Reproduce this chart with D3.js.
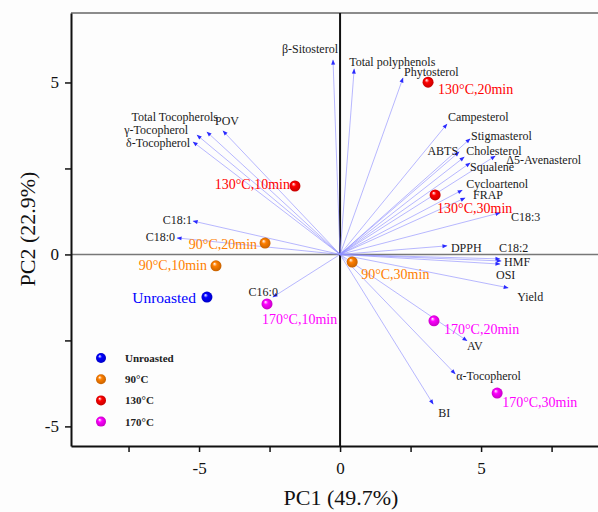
<!DOCTYPE html>
<html>
<head>
<meta charset="utf-8">
<script src="https://cdn.jsdelivr.net/npm/d3@7"></script>
<style>
  body { margin: 0; background: #fdfdfd; }
  svg { display: block; font-family: "Liberation Serif", "Times New Roman", serif; }
</style>
</head>
<body>
<svg id="chart" width="598" height="512"></svg>
<script>
// sample scores (PC1, PC2)
var sampleNames = ["Unroasted", "90°C,10min", "90°C,20min", "90°C,30min",
  "130°C,10min", "130°C,20min", "130°C,30min",
  "170°C,10min", "170°C,20min", "170°C,30min"]
var sampleGroup = ["Unroasted", "90°C", "90°C", "90°C", "130°C", "130°C", "130°C", "170°C", "170°C", "170°C"]
var samplePC1 = [-4.72, -4.40, -2.66, 0.43, -1.60, 3.12, 3.37, -2.59, 3.33, 5.57]
var samplePC2 = [-1.24, -0.33, 0.33, -0.22, 1.99, 5.01, 1.73, -1.44, -1.93, -4.03]

// variable loadings (scaled to score space)
var varNames = ["β-Sitosterol", "Total polyphenols", "Phytosterol", "Campesterol", "Stigmasterol",
  "ABTS", "Cholesterol", "Δ5-Avenasterol", "Squalene", "Cycloartenol", "FRAP", "C18:3",
  "DPPH", "C18:2", "HMF", "OSI", "Yield", "AV", "α-Tocopherol", "BI",
  "C16:0", "C18:1", "C18:0", "δ-Tocopherol", "γ-Tocopherol", "Total Tocopherols", "POV"]
var varPC1 = [-0.25, 0.50, 2.23, 3.79, 4.61, 4.22, 4.40, 5.50, 4.61, 4.33, 4.43, 5.67,
  3.79, 5.67, 5.71, 5.67, 5.96, 4.50, 4.08, 3.30,
  -2.38, -5.21, -5.78, -5.21, -5.07, -4.72, -4.15]
var varPC2 = [5.65, 5.39, 5.13, 3.79, 3.36, 2.98, 2.83, 2.86, 2.66, 1.87, 1.64, 1.21,
  0.25, -0.13, -0.19, -0.28, -0.97, -2.51, -3.47, -4.35,
  -1.24, 0.97, 0.48, 3.27, 3.47, 3.56, 3.59]

var groups = ["Unroasted", "90°C", "130°C", "170°C"]
var xTicks = [-7.5, -5, -2.5, 0, 2.5, 5, 7.5]
var yTicks = [-5, -2.5, 0, 2.5, 5]

var color = d3.scaleOrdinal().domain(groups).range(["#0000ff", "#ff7f00", "#ff0000", "#ff00ff"])

// label placement (pixels from the point / arrow tip)
var varLabelPos = {
  "β-Sitosterol": [5, -11, "end"], "Total polyphenols": [-5, -7, "start"], "Phytosterol": [1, -6, "start"],
  "Campesterol": [1, -7, "start"], "Stigmasterol": [1, -3, "start"], "ABTS": [-1, -1, "end"],
  "Cholesterol": [2, -6, "start"], "Δ5-Avenasterol": [11, 4, "start"], "Squalene": [0, 4, "start"],
  "Cycloartenol": [4, -6, "start"], "FRAP": [8, -3, "start"], "C18:3": [11, 4, "start"],
  "DPPH": [4, 2, "start"], "C18:2": [-1, -11, "start"], "HMF": [3, 1, "start"], "OSI": [-4, 11, "start"],
  "Yield": [9, 9, "start"], "AV": [0, 5, "start"], "α-Tocopherol": [1, 2, "start"], "BI": [5, 9, "start"],
  "C16:0": [5, -5, "end"], "C18:1": [-1, -1, "end"], "C18:0": [-2, -1, "end"],
  "δ-Tocopherol": [-3, 1, "end"], "γ-Tocopherol": [-9, -5, "end"], "Total Tocopherols": [11, -15, "end"],
  "POV": [-8, -10, "start"]
}
var sampleLabelPos = [[-11, 0, "end"], [-9, 0, "end"], [-8, 1, "end"], [9, 12, "start"],
  [-5, -1, "end"], [10, 7, "start"], [2, 14, "start"], [-5, 16, "start"], [10, 9, "start"], [5, 9, "start"]]

var svg = d3.select("#chart")
var plotLeft = 71, plotTop = 13, plotBottom = 446

var x = d3.scaleLinear().domain([-9.54, 9.5]).range([plotLeft, 608])
var y = d3.scaleLinear().domain([-5.57, 7.02]).range([plotBottom, plotTop])

var defs = svg.append("defs")
groups.forEach(function(g, i) {
  var grad = defs.append("radialGradient").attr("id", "ball" + i)
    .attr("cx", "50%").attr("cy", "50%").attr("r", "55%")
    .attr("fx", "35%").attr("fy", "30%")
  grad.append("stop").attr("offset", "0%").attr("stop-color", "#ffffff")
  grad.append("stop").attr("offset", "35%").attr("stop-color", color(g))
  grad.append("stop").attr("offset", "100%").attr("stop-color", d3.color(color(g)).darker(0.8))
})
defs.append("marker").attr("id", "head")
  .attr("viewBox", "0 0 10 10").attr("refX", 9).attr("refY", 5)
  .attr("markerWidth", 6).attr("markerHeight", 5).attr("markerUnits", "userSpaceOnUse")
  .attr("orient", "auto")
  .append("path").attr("d", "M0,1 L10,5 L0,9 Z").attr("fill", "#2a2aff")

// frame lines
svg.append("line").attr("x1", plotLeft).attr("x2", 598).attr("y1", plotTop).attr("y2", plotTop)
  .attr("stroke", "#666").attr("stroke-width", 1.5)
svg.append("line").attr("x1", plotLeft).attr("x2", 598).attr("y1", y(0)).attr("y2", y(0))
  .attr("stroke", "#777").attr("stroke-width", 1.5)
svg.append("line").attr("x1", x(0)).attr("x2", x(0)).attr("y1", plotTop).attr("y2", plotBottom)
  .attr("stroke", "#111").attr("stroke-width", 2)

// axes
var fmt = function(d) { return d % 5 === 0 ? String(d) : "" }
var xAxis = svg.append("g").attr("transform", "translate(0," + plotBottom + ")")
  .call(d3.axisBottom(x).tickValues(xTicks).tickSize(6).tickSizeOuter(0).tickFormat(fmt))
var yAxis = svg.append("g").attr("transform", "translate(" + plotLeft + ",0)")
  .call(d3.axisLeft(y).tickValues(yTicks).tickSize(6).tickSizeOuter(0).tickFormat(fmt))
;[xAxis, yAxis].forEach(function(a) {
  a.select(".domain").attr("stroke", "#111").attr("stroke-width", 2)
  a.selectAll(".tick line").attr("stroke", "#111").attr("stroke-width", 1.5)
  a.selectAll("text").attr("font-family", "Liberation Serif").attr("font-size", 17).attr("fill", "#111")
})
xAxis.selectAll("text").attr("dy", null).attr("y", 28)
yAxis.selectAll("text").attr("x", -12)

// loadings arrows
var vars = varNames.map(function(n, i) { return { name: n, x: varPC1[i], y: varPC2[i] } })
svg.append("g").selectAll("line").data(vars).enter().append("line")
  .attr("x1", x(0)).attr("y1", y(0))
  .attr("x2", function(d) { return x(d.x) }).attr("y2", function(d) { return y(d.y) })
  .attr("stroke", "#8f8fff").attr("stroke-opacity", 0.8).attr("stroke-width", 0.8)
  .attr("marker-end", "url(#head)")

svg.append("g").selectAll("text").data(vars).enter().append("text")
  .attr("x", function(d) { return x(d.x) + varLabelPos[d.name][0] })
  .attr("y", function(d) { return y(d.y) + varLabelPos[d.name][1] })
  .attr("text-anchor", function(d) { return varLabelPos[d.name][2] })
  .attr("dominant-baseline", "central")
  .attr("font-size", 12).attr("fill", "#1a1a1a")
  .text(function(d) { return d.name })

// sample scores
var samples = sampleNames.map(function(n, i) {
  return { name: n, group: sampleGroup[i], x: samplePC1[i], y: samplePC2[i], pos: sampleLabelPos[i] }
})
svg.append("g").selectAll("circle").data(samples).enter().append("circle")
  .attr("cx", function(d) { return x(d.x) }).attr("cy", function(d) { return y(d.y) })
  .attr("r", 5.5)
  .attr("fill", function(d) { return "url(#ball" + groups.indexOf(d.group) + ")" })

svg.append("g").selectAll("text").data(samples).enter().append("text")
  .attr("x", function(d) { return x(d.x) + d.pos[0] })
  .attr("y", function(d) { return y(d.y) + d.pos[1] })
  .attr("text-anchor", function(d) { return d.pos[2] })
  .attr("dominant-baseline", "central")
  .attr("font-size", function(d) { return d.group == "Unroasted" ? 15.5 : 14 })
  .attr("fill", function(d) { return color(d.group) })
  .text(function(d) { return d.name })

// legend
var legend = svg.append("g").selectAll("g").data(groups).enter().append("g")
  .attr("transform", function(d, i) { return "translate(101," + (358 + i * 21.2) + ")" })
legend.append("circle").attr("r", 5)
  .attr("fill", function(d, i) { return "url(#ball" + i + ")" })
legend.append("text").attr("x", 24).attr("dominant-baseline", "central")
  .attr("font-size", 11).attr("font-weight", "bold").attr("fill", "#222")
  .text(function(d) { return d })

// axis titles
svg.append("text").attr("x", 341).attr("y", 497).attr("text-anchor", "middle")
  .attr("dominant-baseline", "central").attr("font-size", 22).attr("fill", "#111")
  .text("PC1 (49.7%)")
svg.append("text").attr("transform", "translate(27,229) rotate(-90)").attr("text-anchor", "middle")
  .attr("dominant-baseline", "central").attr("font-size", 22).attr("fill", "#111")
  .text("PC2 (22.9%)")
</script>
</body>
</html>
